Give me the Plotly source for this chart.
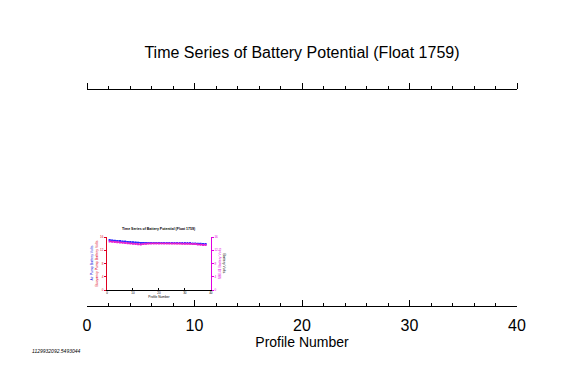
import plotly.graph_objects as go

# Main axis
main_x_range = [0, 40]
main_tickvals = [0, 10, 20, 30, 40]

# Inset (thumbnail) chart data
inset_profiles = [1, 2, 3, 4, 5, 6, 7, 8, 9, 10, 11, 12, 13, 14, 15, 16, 17, 18, 19,
                  20, 21, 22, 23, 24, 25, 26, 27, 28, 29, 30, 31, 32, 33, 34, 35, 36, 37, 38]
inset_blue = [15.1, 15.0, 14.9, 14.85, 14.8, 14.7, 14.65, 14.55, 14.5, 14.45, 14.4, 14.3,
              14.25, 14.2, 14.2, 14.2, 14.2, 14.2, 14.2, 14.2, 14.2, 14.2, 14.2, 14.2,
              14.2, 14.2, 14.2, 14.2, 14.2, 14.2, 14.2, 14.2, 14.1, 14.1, 14.0, 14.0, 13.9, 13.9]
inset_red = [14.7, 14.6, 14.5, 14.45, 14.4, 14.3, 14.2, 14.15, 14.1, 14.0, 13.95, 13.85,
             13.8, 13.9, 14.0, 14.1, 14.1, 14.1, 14.1, 14.1, 14.1, 14.1, 14.1, 14.1,
             14.1, 14.1, 14.05, 14.05, 14.0, 14.0, 14.0, 14.0, 13.9, 13.9, 13.8, 13.7, 13.6, 13.6]
inset_x_ticks = [0, 10, 20, 30, 40]
inset_y_ticks = [0, 4, 8, 12, 16]

title_text = "Time Series of Battery Potential (Float 1759)"
x_title = "Profile Number"
stamp = "1129932092.5493044"

fig = go.Figure()

# invisible traces to establish main axes
fig.add_trace(go.Scatter(x=main_x_range, y=[0, 1], mode="markers",
                         marker=dict(opacity=0), showlegend=False, hoverinfo="skip",
                         xaxis="x", yaxis="y"))
fig.add_trace(go.Scatter(x=main_x_range, y=[0, 1], mode="markers",
                         marker=dict(opacity=0), showlegend=False, hoverinfo="skip",
                         xaxis="x2", yaxis="y"))

# inset traces
fig.add_trace(go.Scatter(x=inset_profiles, y=inset_blue, mode="lines+markers",
                         line=dict(color="#2a2aff", width=1),
                         marker=dict(symbol="square", size=2, color="#2a2aff"),
                         showlegend=False, xaxis="x3", yaxis="y3"))
fig.add_trace(go.Scatter(x=inset_profiles, y=inset_red, mode="lines+markers",
                         line=dict(color="#ff2060", width=1),
                         marker=dict(symbol="square", size=2, color="#e020e0"),
                         showlegend=False, xaxis="x3", yaxis="y4"))

ins_x0, ins_x1 = 0.0465, 0.288
ins_y0, ins_y1 = 0.074, 0.319

OFF = 8  # page body margin

fig.update_layout(
    width=576, height=379,
    margin=dict(l=87 - OFF, r=576 - (87 - OFF) - 430, t=90 - OFF, b=379 - (90 - OFF) - 216,
                autoexpand=False),
    paper_bgcolor="white", plot_bgcolor="white",
    font=dict(family="Liberation Sans, Arial, sans-serif", color="black"),
    title=dict(text=title_text, x=(302 - OFF) / 576, xanchor="center",
               y=1 - (52 - OFF) / 379, yanchor="middle", font=dict(size=16)),
    xaxis=dict(range=main_x_range, tickvals=main_tickvals, ticks="inside",
               ticklen=6, tickcolor="black", showline=True, linecolor="black",
               linewidth=1, showgrid=False, zeroline=False, automargin=False,
               tickfont=dict(size=16), ticklabelstandoff=5,
               minor=dict(dtick=2, ticks="inside", ticklen=3, tickcolor="black"),
               title=dict(text=x_title, font=dict(size=14), standoff=0)),
    xaxis2=dict(range=main_x_range, tickvals=main_tickvals, ticks="outside",
                ticklen=6, tickcolor="black", showline=True, linecolor="black",
                linewidth=1, showgrid=False, zeroline=False, showticklabels=False,
                overlaying="x", side="top", anchor="y", automargin=False,
                minor=dict(dtick=2, ticks="outside", ticklen=3, tickcolor="black")),
    yaxis=dict(range=[0, 1], visible=False, automargin=False),
    xaxis3=dict(domain=[ins_x0, ins_x1], anchor="y3", range=[0, 40],
                tickvals=inset_x_ticks, ticks="inside", ticklen=2, automargin=False,
                tickcolor="black", showline=True, linecolor="black", linewidth=0.5,
                showgrid=False, zeroline=False, tickfont=dict(size=3),
                title=dict(text=x_title, font=dict(size=3.2), standoff=1)),
    yaxis3=dict(domain=[ins_y0, ins_y1], anchor="x3", range=[0, 16], automargin=False,
                tickvals=inset_y_ticks, ticks="outside", ticklen=2,
                tickcolor="#e00020", showline=True, linecolor="#e00020", linewidth=1,
                showgrid=False, zeroline=False, tickfont=dict(size=3, color="#e00020"),
                title=dict(text="Buoyancy Pump Battery Volts", font=dict(size=3.5, color="#e00020"),
                           standoff=1)),
    yaxis4=dict(domain=[ins_y0, ins_y1], anchor="x3", overlaying="y3", side="right",
                range=[0, 16], tickvals=inset_y_ticks, ticks="outside", ticklen=2,
                automargin=False,
                tickcolor="#e000e0", showline=True, linecolor="#e000e0", linewidth=1,
                showgrid=False, zeroline=False, tickfont=dict(size=3, color="#e000e0"),
                title=dict(text="SBE41 Battery Volts", font=dict(size=3.5, color="#e000e0"),
                           standoff=1)),
    showlegend=False,
)

inset_center = (ins_x0 + ins_x1) / 2
fig.add_annotation(text="<b>" + title_text + "</b>", xref="paper", yref="paper",
                   x=inset_center, y=ins_y1 + 0.02, showarrow=False,
                   font=dict(size=3.5, color="black"), xanchor="center", yanchor="bottom")
fig.add_annotation(text="Air Pump Battery Volts", xref="paper", yref="paper",
                   x=(92 - 87) / 430, y=(ins_y0 + ins_y1) / 2, textangle=-90,
                   showarrow=False, font=dict(size=3.5, color="#2020e0"),
                   xanchor="center", yanchor="middle")
fig.add_annotation(text="Battery Volts", xref="paper", yref="paper",
                   x=(224 - 87) / 430, y=(ins_y0 + ins_y1) / 2, textangle=90,
                   showarrow=False, font=dict(size=3.5, color="black"),
                   xanchor="center", yanchor="middle")
fig.add_annotation(text="<i>" + stamp + "</i>", xref="paper", yref="paper",
                   x=(30 - 87) / 430, y=-(351 - 306) / 216, showarrow=False,
                   font=dict(size=5, color="black"), xanchor="left", yanchor="middle")

fig.write_html("out.html")
